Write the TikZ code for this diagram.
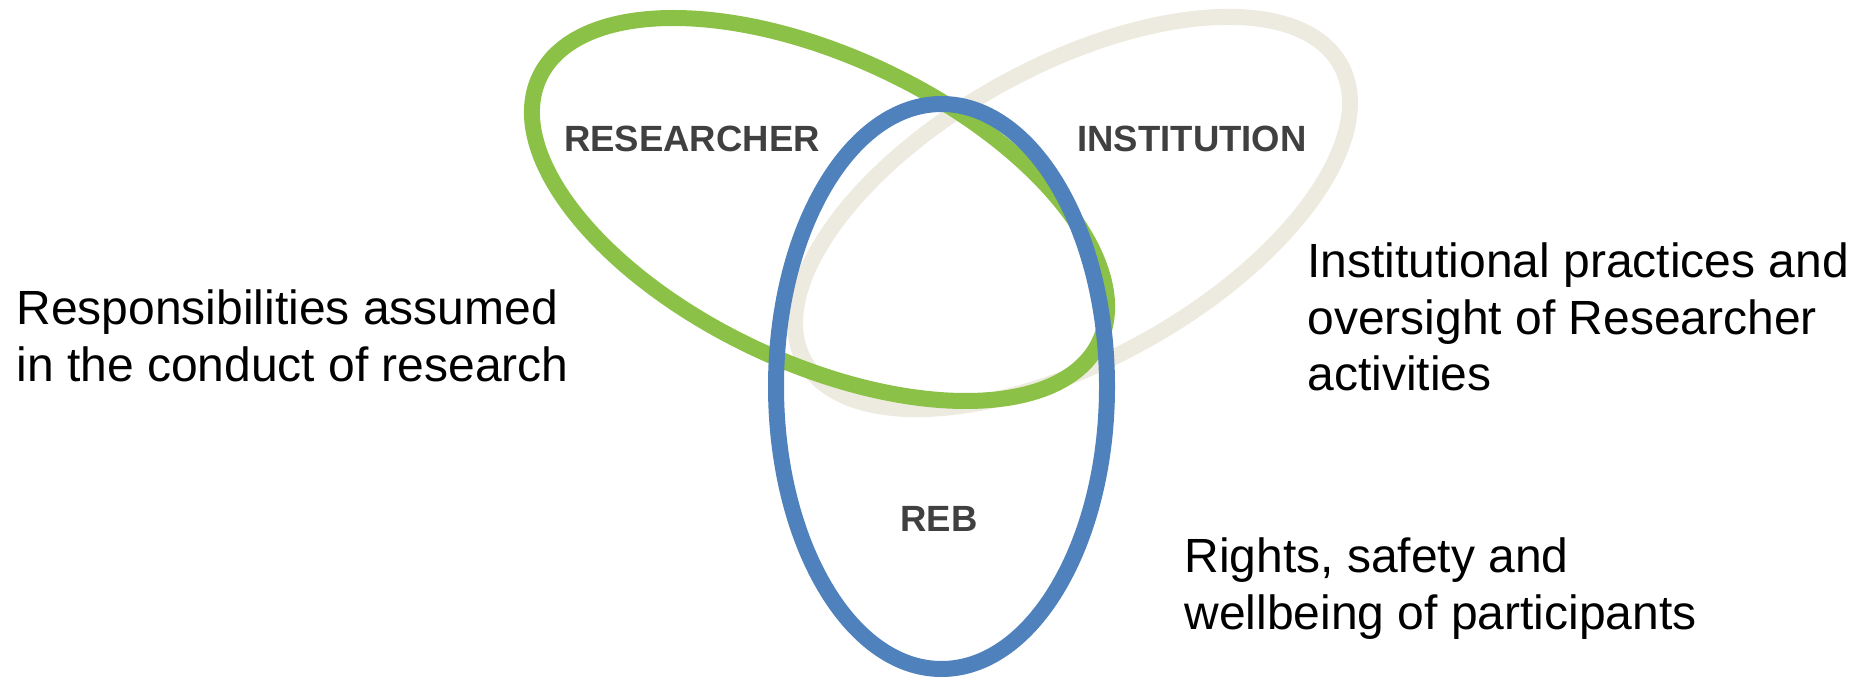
\documentclass[tikz,border=0pt]{standalone}
\usepackage{fontspec}
\setmainfont{Liberation Sans}
\usetikzlibrary{shapes.geometric}
\definecolor{ringgreen}{RGB}{139,193,71}
\definecolor{ringbeige}{RGB}{237,235,224}
\definecolor{ringblue}{RGB}{79,129,189}
\definecolor{taggray}{RGB}{64,64,64}

\begin{document}
\begin{tikzpicture}[x=0.5pt, y=-0.5pt,
    ring/.style={shape=ellipse, draw, line width=8pt, inner sep=0pt},
    tag/.style={anchor=base, inner sep=0pt, text=taggray, font=\bfseries\fontsize{18.25pt}{22pt}\selectfont},
    note/.style={anchor=base west, align=left, inner sep=0pt, font=\fontsize{24pt}{28.35pt}\selectfont}]
                \useasboundingbox (0,0) rectangle (1866,678);
                % the three rings, back to front
                \node[ring, draw=ringbeige, minimum width=306.3pt, minimum height=147pt, rotate=28.9] (inst) at (1072.5,213) {};
                \node[ring, draw=ringgreen, minimum width=309.7pt, minimum height=153.1pt, rotate=-25.3] (res) at (819.5,209.5) {};
                \node[ring, draw=ringblue, minimum width=165.5pt, minimum height=282.5pt] (reb) at (941.5,386.5) {};
                % labels inside the rings
                \node[tag] (resname) at (692,152) {RESEARCHER};
                \node[tag] (instname) at (1192,152) {INSTITUTION};
                \node[tag] (rebname) at (939,531) {REB};
                % notes beside them (anchored on the last line)
                \node[note] (resnote) at (16,381.7) {Responsibilities assumed\\in the conduct of research};
                \node[note] (instnote) at (1307,390.7) {Institutional practices and\\oversight of Researcher\\activities};
                \node[note] (rebnote) at (1184,629.3) {Rights, safety and\\wellbeing of participants};
\end{tikzpicture}
\end{document}
